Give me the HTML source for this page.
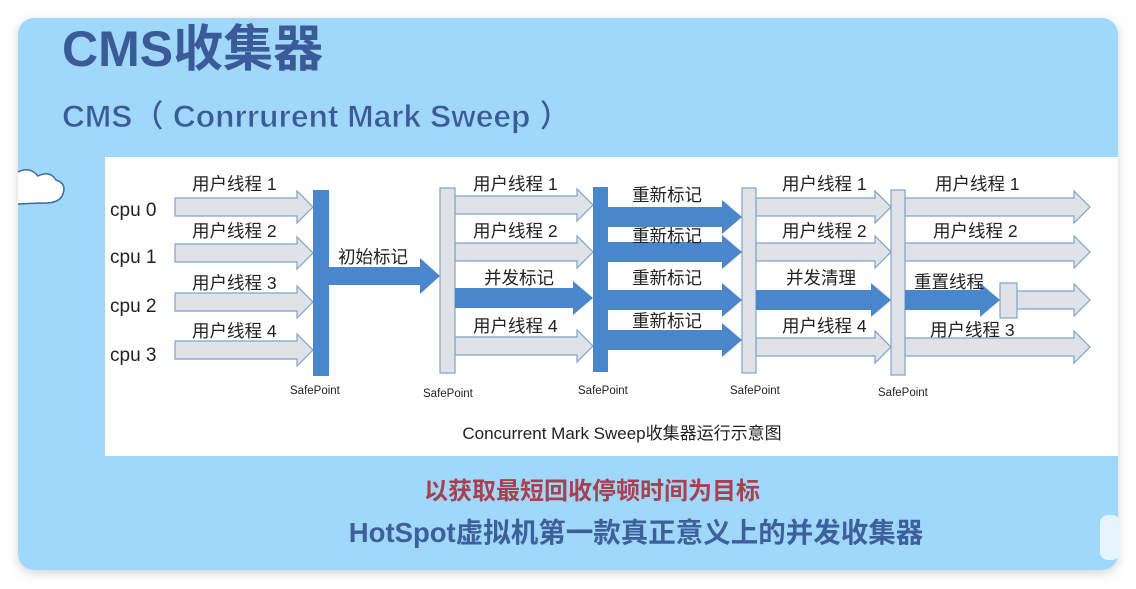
<!DOCTYPE html>
<html><head><meta charset="utf-8"><style>
html,body{margin:0;padding:0;width:1136px;height:589px;overflow:hidden;background:#fff}
</style></head><body>
<svg width="1136" height="589" xmlns="http://www.w3.org/2000/svg" font-family="Liberation Sans, Noto Sans CJK SC, sans-serif">
<defs>
<filter id="sh" x="-5%" y="-5%" width="110%" height="115%"><feDropShadow dx="0" dy="3" stdDeviation="5" flood-color="#000" flood-opacity="0.18"/></filter>
</defs>
<rect x="18" y="18" width="1100" height="552" rx="16" fill="#9fd8fb" filter="url(#sh)"/>
<rect x="105" y="157" width="1013" height="299" fill="#fff"/>
<path d="M18,172 Q30,166 38,176 Q50,170 56,180 Q68,184 62,196 Q58,204 40,203 L18,204" fill="#fff" stroke="#3b6aa8" stroke-width="1.5"/>
<rect x="1100" y="515" width="20" height="45" rx="8" fill="#e6f4fd"/>
<text x="62" y="66" font-size="50" font-weight="bold" fill="#3a5a98">CMS收集器</text>
<text x="62" y="127" font-size="31.7" font-weight="bold" fill="#3a5a98" stroke="#9fd8fb" stroke-width="0.8">CMS（ Conrrurent Mark Sweep ）</text>
<g fill="#dfe3e8" stroke="#7fa3c9" stroke-width="1.2">
<polygon points="175,198 297,198 297,191 313,207 297,223 297,216 175,216"/>
<polygon points="175,244 297,244 297,237 313,253 297,269 297,262 175,262"/>
<polygon points="175,293 297,293 297,286 313,302 297,318 297,311 175,311"/>
<polygon points="175,341 297,341 297,334 313,350 297,366 297,359 175,359"/>
<polygon points="455,196 577,196 577,189 593,205 577,221 577,214 455,214"/>
<polygon points="455,243 577,243 577,236 593,252 577,268 577,261 455,261"/>
<polygon points="455,337 577,337 577,330 593,346 577,362 577,355 455,355"/>
<polygon points="756,198 875,198 875,191 891,207 875,223 875,216 756,216"/>
<polygon points="756,243 875,243 875,236 891,252 875,268 875,261 756,261"/>
<polygon points="756,338 875,338 875,331 891,347 875,363 875,356 756,356"/>
<polygon points="905,198 1074,198 1074,191 1090,207 1074,223 1074,216 905,216"/>
<polygon points="905,243 1074,243 1074,236 1090,252 1074,268 1074,261 905,261"/>
<polygon points="905,338 1074,338 1074,331 1090,347 1074,363 1074,356 905,356"/>
<polygon points="1017,291 1074,291 1074,284 1090,300 1074,316 1074,309 1017,309"/>
<rect x="440" y="188" width="15" height="185"/>
<rect x="742" y="188" width="14" height="185"/>
<rect x="891" y="190" width="14" height="185"/>
<rect x="1000" y="283" width="17" height="35"/>
</g>
<g fill="#4a86cc">
<polygon points="329,267 420,267 420,258 440,276 420,294 420,285 329,285"/>
<polygon points="455,288 573,288 573,281 593,298 573,315 573,308 455,308"/>
<polygon points="608,207 722,207 722,200 742,217 722,234 722,227 608,227"/>
<polygon points="608,242 722,242 722,235 742,252 722,269 722,262 608,262"/>
<polygon points="608,290 722,290 722,283 742,300 722,317 722,310 608,310"/>
<polygon points="608,330 722,330 722,323 742,340 722,357 722,350 608,350"/>
<polygon points="756,290 871,290 871,283 891,300 871,317 871,310 756,310"/>
<polygon points="905,290 980,290 980,283 1000,300 980,317 980,310 905,310"/>
<rect x="313" y="190" width="16" height="186"/>
<rect x="593" y="187" width="15" height="185"/>
</g>
<g font-size="19" fill="#222">
<text x="110" y="216">cpu 0</text>
<text x="110" y="263">cpu 1</text>
<text x="110" y="312">cpu 2</text>
<text x="110" y="361">cpu 3</text>
</g>
<g font-size="17.5" fill="#222">
<text x="192" y="190">用户线程 1</text>
<text x="192" y="237">用户线程 2</text>
<text x="192" y="289">用户线程 3</text>
<text x="192" y="337">用户线程 4</text>
<text x="338" y="263">初始标记</text>
<text x="473" y="190">用户线程 1</text>
<text x="473" y="237">用户线程 2</text>
<text x="484" y="284">并发标记</text>
<text x="473" y="332">用户线程 4</text>
<text x="632" y="201">重新标记</text>
<text x="632" y="242">重新标记</text>
<text x="632" y="284">重新标记</text>
<text x="632" y="327">重新标记</text>
<text x="782" y="190">用户线程 1</text>
<text x="782" y="237">用户线程 2</text>
<text x="786" y="284">并发清理</text>
<text x="782" y="332">用户线程 4</text>
<text x="935" y="190">用户线程 1</text>
<text x="933" y="237">用户线程 2</text>
<text x="914" y="288">重置线程</text>
<text x="930" y="336">用户线程 3</text>
</g>
<g font-size="11.5" fill="#222">
<text x="290" y="394">SafePoint</text>
<text x="423" y="397">SafePoint</text>
<text x="578" y="394">SafePoint</text>
<text x="730" y="394">SafePoint</text>
<text x="878" y="396">SafePoint</text>
</g>
<text x="622" y="439" font-size="17" fill="#222" text-anchor="middle">Concurrent Mark Sweep收集器运行示意图</text>
<text x="592" y="499" font-size="24" font-weight="bold" fill="#a8404f" text-anchor="middle">以获取最短回收停顿时间为目标</text>
<text x="636" y="542" font-size="27.5" font-weight="bold" fill="#3d5f9a" text-anchor="middle">HotSpot虚拟机第一款真正意义上的并发收集器</text>
</svg>
</body></html>
